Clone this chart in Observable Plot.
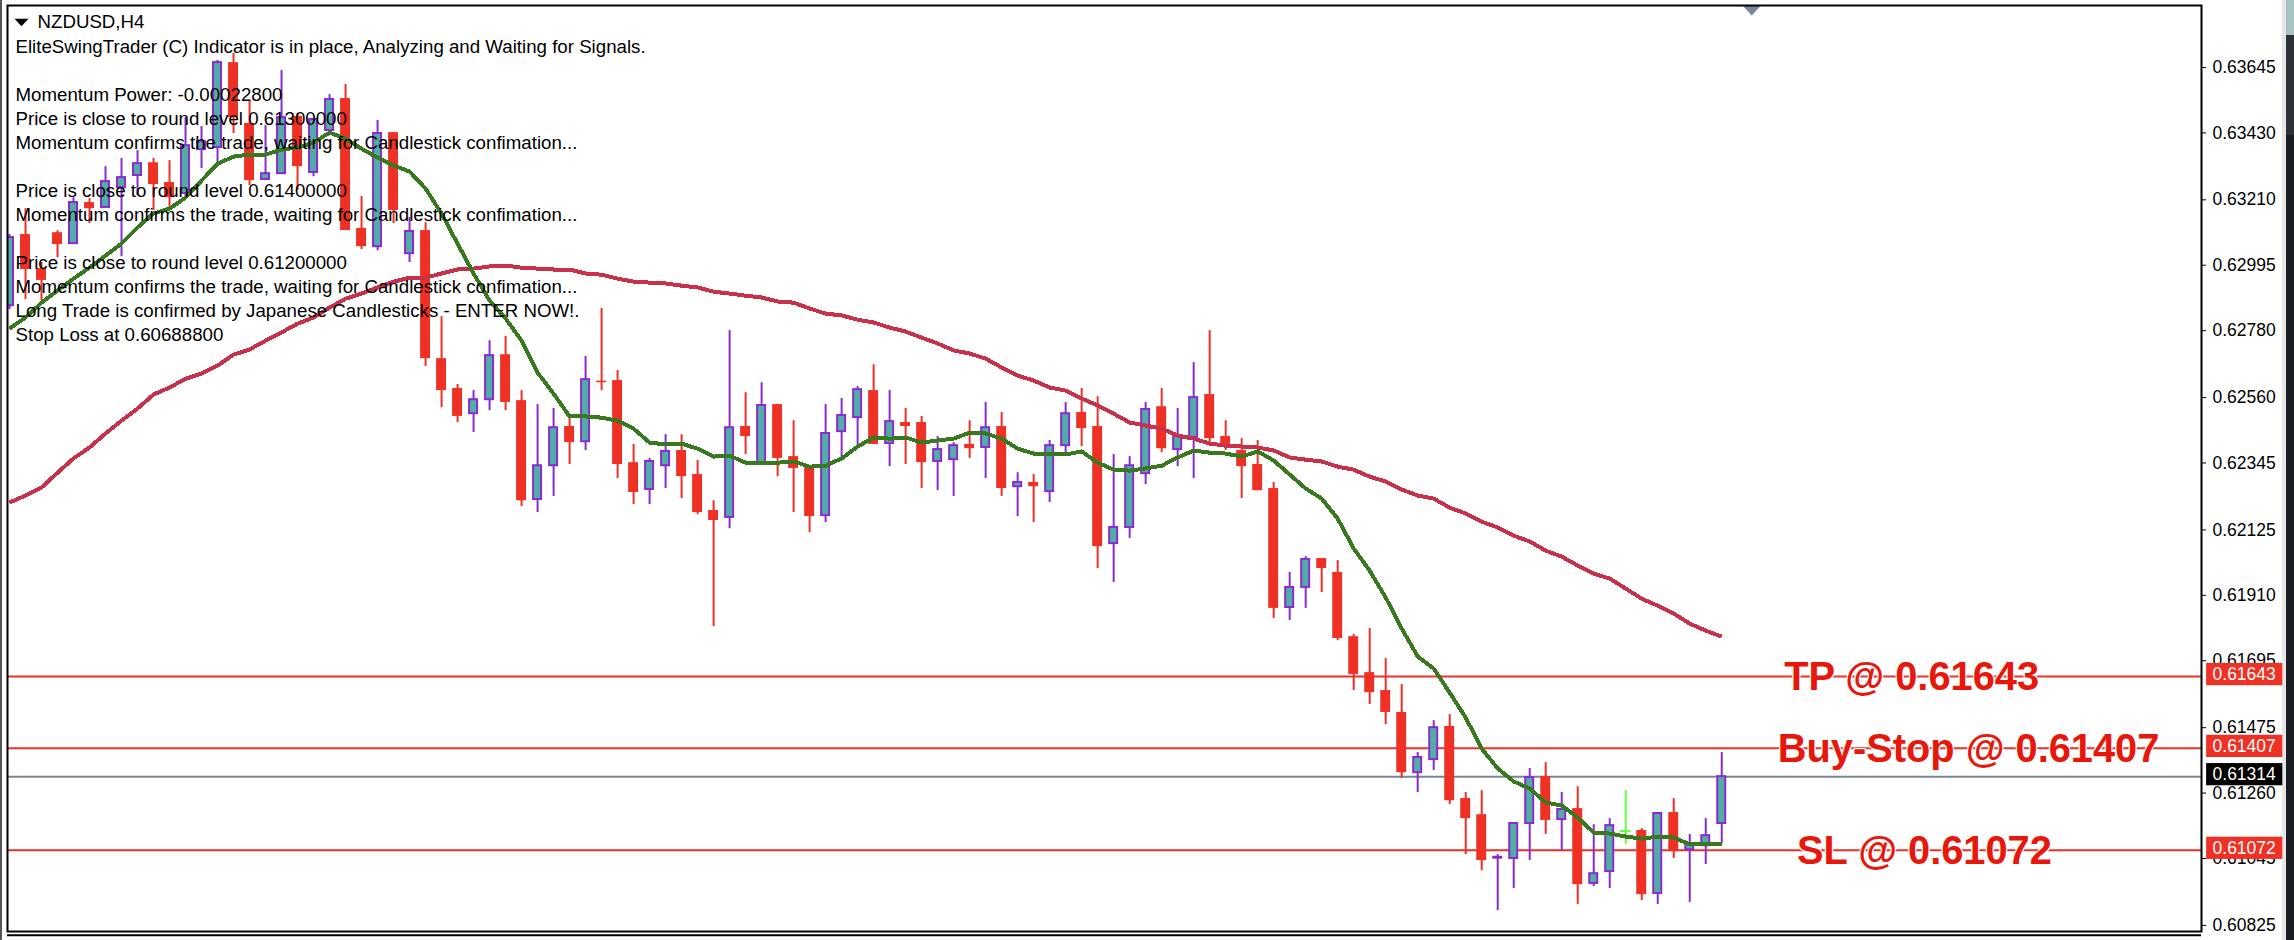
<!DOCTYPE html>
<html><head><meta charset="utf-8">
<script src="https://cdn.jsdelivr.net/npm/d3@7"></script>
<script src="https://cdn.jsdelivr.net/npm/@observablehq/plot@0.6"></script>
<style>
html,body{margin:0;padding:0;background:#fff;overflow:hidden}
#wrap{position:relative;width:2294px;height:940px;background:#fff}
#wrap svg{position:absolute;left:0;top:0}
.s{position:absolute}
</style></head><body><div id="wrap">
<div class="s" style="left:0;top:0;width:2px;height:940px;background:#555"></div>
<div class="s" style="left:2282px;top:0;width:4px;height:940px;background:#e6e6e6"></div>
<div class="s" style="left:2286px;top:0;width:8px;height:35px;background:#a6c2c2"></div>
<div class="s" style="left:2286px;top:35px;width:8px;height:100px;background:#2c3138"></div>
<div class="s" style="left:2286px;top:135px;width:8px;height:805px;background:#1b1d24"></div>
</div>
<script>
const open=[0.62862,0.63096,0.62984,0.63102,0.63066,0.63201,0.63185,0.63250,0.63290,0.63332,0.63267,0.63231,0.63375,0.63382,0.63661,0.63461,0.63277,0.63296,0.63484,0.63300,0.63438,0.63543,0.63116,0.63056,0.63431,0.63033,0.63109,0.62688,0.62590,0.62507,0.62553,0.62701,0.62550,0.62225,0.62336,0.62465,0.62415,0.62614,0.62616,0.62346,0.62258,0.62336,0.62386,0.62307,0.62189,0.62166,0.62465,0.62346,0.62537,0.62366,0.62333,0.62172,0.62448,0.62494,0.62583,0.62409,0.62478,0.62478,0.62350,0.62356,0.62406,0.62396,0.62465,0.62267,0.62281,0.62251,0.62402,0.62511,0.62465,0.62080,0.62133,0.62310,0.62530,0.62389,0.62429,0.62570,0.62432,0.62386,0.62340,0.62261,0.61870,0.61936,0.62031,0.61985,0.61774,0.61656,0.61597,0.61525,0.61327,0.61370,0.61479,0.61242,0.61189,0.61046,0.61045,0.61160,0.61314,0.61173,0.61209,0.60963,0.61002,0.61135,0.61137,0.60930,0.61196,0.61074,0.61087,0.61160];
const close=[0.63086,0.62981,0.62945,0.63063,0.63201,0.63181,0.63270,0.63283,0.63329,0.63260,0.63217,0.63388,0.63401,0.63661,0.63480,0.63273,0.63296,0.63480,0.63319,0.63474,0.63540,0.63109,0.63056,0.63428,0.63175,0.63106,0.62688,0.62583,0.62498,0.62553,0.62698,0.62544,0.62221,0.62336,0.62461,0.62412,0.62619,0.62609,0.62340,0.62248,0.62350,0.62383,0.62300,0.62182,0.62156,0.62461,0.62432,0.62534,0.62360,0.62327,0.62169,0.62442,0.62501,0.62586,0.62406,0.62481,0.62465,0.62346,0.62389,0.62402,0.62392,0.62461,0.62261,0.62281,0.62267,0.62402,0.62507,0.62458,0.62070,0.62133,0.62336,0.62521,0.62392,0.62432,0.62560,0.62425,0.62399,0.62333,0.62254,0.61867,0.61936,0.62028,0.61998,0.61768,0.61650,0.61590,0.61525,0.61327,0.61377,0.61475,0.61235,0.61176,0.61038,0.61049,0.61160,0.61311,0.61170,0.61206,0.60959,0.60995,0.61153,0.61132,0.60926,0.61193,0.61068,0.61091,0.61120,0.61314];
const high=[0.63096,0.63181,0.63004,0.63109,0.63217,0.63214,0.63319,0.63346,0.63372,0.63346,0.63339,0.63480,0.63451,0.63668,0.63691,0.63536,0.63454,0.63635,0.63494,0.63477,0.63556,0.63589,0.63221,0.63471,0.63431,0.63152,0.63135,0.62826,0.62603,0.62583,0.62747,0.62761,0.62583,0.62537,0.62524,0.62494,0.62695,0.62853,0.62649,0.62406,0.62360,0.62438,0.62438,0.62353,0.62221,0.62780,0.62576,0.62609,0.62537,0.62484,0.62336,0.62537,0.62557,0.62596,0.62668,0.62583,0.62524,0.62498,0.62432,0.62412,0.62484,0.62544,0.62511,0.62313,0.62307,0.62419,0.62544,0.62590,0.62563,0.62373,0.62366,0.62544,0.62590,0.62524,0.62675,0.62780,0.62484,0.62425,0.62419,0.62281,0.61985,0.62037,0.62031,0.62024,0.61781,0.61801,0.61702,0.61617,0.61393,0.61498,0.61518,0.61262,0.61268,0.61058,0.61163,0.61341,0.61360,0.61262,0.61281,0.61156,0.61176,0.61268,0.61143,0.61196,0.61242,0.61124,0.61176,0.61393];
const low=[0.62849,0.62882,0.62879,0.63020,0.63066,0.63132,0.63185,0.63023,0.63224,0.63175,0.63185,0.63217,0.63313,0.63329,0.63428,0.63257,0.63273,0.63296,0.63241,0.63286,0.63438,0.63109,0.63047,0.63043,0.63132,0.63004,0.62662,0.62527,0.62478,0.62445,0.62517,0.62517,0.62202,0.62182,0.62235,0.62340,0.62386,0.62583,0.62294,0.62208,0.62208,0.62261,0.62228,0.62175,0.61807,0.62129,0.62373,0.62343,0.62300,0.62182,0.62116,0.62149,0.62363,0.62396,0.62406,0.62333,0.62340,0.62261,0.62254,0.62235,0.62360,0.62294,0.62235,0.62169,0.62149,0.62215,0.62376,0.62399,0.61998,0.61952,0.62097,0.62274,0.62379,0.62333,0.62294,0.62412,0.62386,0.62228,0.62254,0.61834,0.61827,0.61867,0.61919,0.61761,0.61597,0.61551,0.61485,0.61308,0.61262,0.61334,0.61222,0.61058,0.61005,0.60874,0.60946,0.61038,0.61124,0.61071,0.60894,0.60953,0.60946,0.61091,0.60907,0.60894,0.61045,0.60900,0.61025,0.61094];
const fastMA=[0.62787,0.62823,0.62872,0.62912,0.62951,0.62987,0.63027,0.63066,0.63119,0.63165,0.63181,0.63217,0.63273,0.63329,0.63352,0.63359,0.63359,0.63375,0.63382,0.63398,0.63431,0.63411,0.63378,0.63349,0.63323,0.63303,0.63247,0.63165,0.63066,0.62968,0.62879,0.62820,0.62747,0.62642,0.62573,0.62498,0.62498,0.62494,0.62484,0.62458,0.62412,0.62406,0.62409,0.62392,0.62366,0.62369,0.62346,0.62346,0.62346,0.62350,0.62333,0.62336,0.62360,0.62399,0.62429,0.62425,0.62429,0.62412,0.62419,0.62425,0.62445,0.62442,0.62425,0.62392,0.62376,0.62373,0.62373,0.62383,0.62346,0.62323,0.62320,0.62327,0.62336,0.62363,0.62386,0.62379,0.62376,0.62366,0.62383,0.62353,0.62307,0.62261,0.62228,0.62162,0.62064,0.61991,0.61903,0.61801,0.61709,0.61669,0.61590,0.61508,0.61406,0.61341,0.61298,0.61275,0.61229,0.61219,0.61179,0.61130,0.61127,0.61117,0.61110,0.61117,0.61114,0.61091,0.61091,0.61091];
const slowMA=[0.62215,0.62238,0.62264,0.62313,0.62360,0.62396,0.62442,0.62484,0.62524,0.62570,0.62593,0.62622,0.62639,0.62665,0.62701,0.62718,0.62747,0.62774,0.62803,0.62823,0.62856,0.62885,0.62902,0.62922,0.62941,0.62954,0.62954,0.62968,0.62981,0.62984,0.62991,0.62994,0.62987,0.62984,0.62981,0.62981,0.62968,0.62964,0.62951,0.62941,0.62938,0.62935,0.62928,0.62922,0.62908,0.62902,0.62895,0.62889,0.62876,0.62872,0.62853,0.62836,0.62830,0.62816,0.62807,0.62790,0.62777,0.62757,0.62738,0.62715,0.62705,0.62688,0.62659,0.62632,0.62616,0.62593,0.62583,0.62557,0.62534,0.62507,0.62478,0.62468,0.62458,0.62435,0.62425,0.62409,0.62402,0.62399,0.62396,0.62386,0.62363,0.62356,0.62350,0.62333,0.62323,0.62300,0.62284,0.62258,0.62238,0.62228,0.62198,0.62179,0.62152,0.62133,0.62106,0.62087,0.62057,0.62037,0.62008,0.61981,0.61965,0.61932,0.61899,0.61876,0.61850,0.61817,0.61794,0.61774];
const yTicks=[0.63645,0.63430,0.63210,0.62995,0.62780,0.62560,0.62345,0.62125,0.61910,0.61695,0.61475,0.61260,0.61045,0.60825];
const orderPrices=[0.61643,0.61407,0.61072];
const orderLabels=["TP @ 0.61643","Buy-Stop @ 0.61407","SL @ 0.61072"];
const orderLabelX=[110.9,110.5,111.7];
const lastPrice=0.61314;
const limeCandle=101;
const header="NZDUSD,H4";
const infoText=["EliteSwingTrader (C) Indicator is in place, Analyzing and Waiting for Signals.","","Momentum Power: -0.00022800","Price is close to round level 0.61300000","Momentum confirms the trade, waiting for Candlestick confimation...","","Price is close to round level 0.61400000","Momentum confirms the trade, waiting for Candlestick confimation...","","Price is close to round level 0.61200000","Momentum confirms the trade, waiting for Candlestick confimation...","Long Trade is confirmed by Japanese Candlesticks - ENTER NOW!.","Stop Loss at 0.60688800"].join("\n");

const candles=open.map((o,i)=>({i,open:o,close:close[i],high:high[i],low:low[i],lime:i===limeCandle}));
const ups=candles.filter(d=>d.close>=d.open&&!d.lime);
const downs=candles.filter(d=>d.close<d.open&&!d.lime);
const limes=candles.filter(d=>d.lime);
const RED="#ee3124",TEAL="#52aea5",PURPLE="#8a2bd2",GREEN="#38791f",CRIM="#c9314b",LIME="#66ff44";
const FONT="'Liberation Sans'";
const tagRows=[...orderPrices.map(p=>({p,fill:RED})),{p:lastPrice,fill:"#000"}];
const tri={draw(c,s){const r=Math.sqrt(s/Math.PI);c.moveTo(-r,-r*.55);c.lineTo(r,-r*.55);c.lineTo(0,r*.55);c.closePath();}};

const body=(data,opt)=>Plot.rect(data,{x1:d=>d.i-opt.w,x2:d=>d.i+opt.w,y1:"open",y2:"close",clip:true,...opt.s});
const chart=Plot.plot({
  width:2294,height:940,marginLeft:7,marginRight:93,marginTop:5,marginBottom:9,
  style:{background:"transparent",fontFamily:FONT,fontSize:"18px",color:"#000"},
  x:{axis:null,domain:[-0.125,136.98]},
  y:{domain:[0.60805,0.638488]},
  marks:[
    Plot.ruleY(orderPrices,{stroke:RED,strokeWidth:2}),
    Plot.ruleY([lastPrice],{stroke:"#778899",strokeWidth:2}),
    Plot.ruleX(ups,{x:"i",y1:"low",y2:"high",stroke:PURPLE,strokeWidth:2}),
    Plot.ruleX(downs,{x:"i",y1:"low",y2:"high",stroke:RED,strokeWidth:2}),
    Plot.ruleX(limes,{x:"i",y1:"low",y2:"high",stroke:LIME,strokeWidth:2}),
    body(downs,{w:0.31,s:{fill:RED}}),
    body(ups,{w:0.25,s:{fill:TEAL,stroke:PURPLE,strokeWidth:2}}),
    body(limes,{w:0.31,s:{fill:LIME,stroke:LIME,strokeWidth:1}}),
    Plot.line(slowMA,{x:(d,i)=>i,y:d=>d,stroke:CRIM,strokeWidth:4,strokeLinecap:"butt",shapeRendering:"crispEdges"}),
    Plot.line(fastMA,{x:(d,i)=>i,y:d=>d,stroke:GREEN,strokeWidth:4,strokeLinecap:"butt",shapeRendering:"crispEdges"}),
    Plot.text([infoText],{text:d=>d,frameAnchor:"top-left",textAnchor:"start",lineAnchor:"top",lineHeight:1.3333,dx:8,dy:30.6,fontSize:18.7,lineHeight:24/18.7,fill:"#000"}),
    Plot.text([header],{text:d=>d,frameAnchor:"top-left",textAnchor:"start",lineAnchor:"top",dx:30,dy:9,fontSize:18.7,fill:"#000"}),
    Plot.dot([0.75],{x:d=>d,y:[0.63793],r:7,symbol:tri,fill:"#000"}),
    Plot.dot([108.875],{x:d=>d,y:[0.63832],r:9,symbol:tri,fill:"#778899"}),
    Plot.text(orderLabels,{x:(d,i)=>orderLabelX[i],y:(d,i)=>orderPrices[i],text:d=>d,textAnchor:"start",lineAnchor:"middle",dy:1,fontSize:39.8,fontWeight:"bold",fill:"#e8170c",stroke:"#fff",strokeWidth:2.5}),
    Plot.axisY({anchor:"right",ticks:yTicks,tickFormat:d3.format(".5f"),tickSize:4,tickPadding:7,label:null,fontSize:17.5,stroke:"#000",color:"#000"}),
    Plot.frame({stroke:"#000",strokeWidth:2}),
    Plot.ruleY([0.60793],{stroke:"#000",strokeWidth:2}),
    Plot.rect(tagRows,{x1:137.3,x2:142.06,y1:d=>d.p-0.00030,y2:d=>d.p+0.00043,fill:d=>d.fill}),
    Plot.text(tagRows,{x:137.67,y:"p",text:d=>d.p.toFixed(5),textAnchor:"start",dy:-2,fontSize:17.5,fill:"#fff"})
  ],
  color:{type:"identity"}
});
document.getElementById("wrap").appendChild(chart);
</script></body></html>
